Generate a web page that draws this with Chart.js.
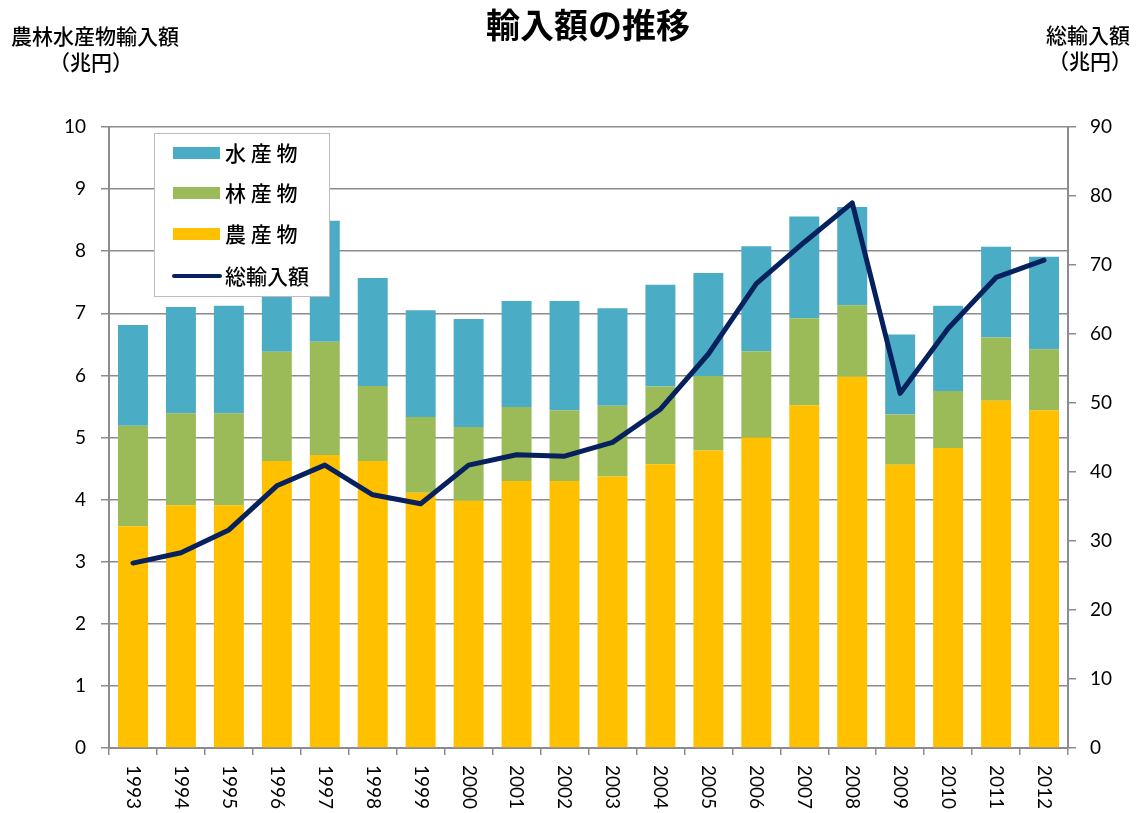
<!DOCTYPE html>
<html>
<head>
<meta charset="utf-8">
<script src="https://cdn.jsdelivr.net/npm/chart.js@4"></script>
<style>
  html, body { margin: 0; padding: 0; background: #fff; }
  #wrap { width: 1140px; height: 813px; }
</style>
</head>
<body>
<div id="wrap"><canvas id="chart" width="1140" height="813"></canvas></div>
<script>
// 年
const years = ['1993','1994','1995','1996','1997','1998','1999','2000','2001','2002',
               '2003','2004','2005','2006','2007','2008','2009','2010','2011','2012'];
// 農産物 (兆円)
const agri   = [3.57, 3.91, 3.91, 4.62, 4.72, 4.62, 4.11, 3.98, 4.30, 4.30,
                4.37, 4.57, 4.79, 5.00, 5.52, 5.98, 4.56, 4.83, 5.59, 5.44];
// 林産物 (兆円)
const forest = [1.62, 1.48, 1.48, 1.76, 1.82, 1.21, 1.22, 1.19, 1.19, 1.14,
                1.14, 1.25, 1.20, 1.39, 1.40, 1.15, 0.81, 0.92, 1.02, 0.98];
// 水産物 (兆円)
const fish   = [1.62, 1.71, 1.73, 1.95, 1.95, 1.74, 1.72, 1.74, 1.71, 1.76,
                1.57, 1.64, 1.66, 1.69, 1.64, 1.58, 1.29, 1.37, 1.46, 1.49];
// 総輸入額 (兆円)
const total  = [26.8, 28.3, 31.6, 38.0, 41.0, 36.7, 35.4, 41.0, 42.5, 42.3,
                44.3, 49.1, 57.1, 67.3, 73.3, 79.0, 51.4, 60.8, 68.2, 70.7];
const leftTicks  = [0, 1, 2, 3, 4, 5, 6, 7, 8, 9, 10];
const rightTicks = [0, 10, 20, 30, 40, 50, 60, 70, 80, 90];

const JP = '"Noto Sans CJK JP", "Noto Sans", sans-serif';
const NUM = 'Lato, "Noto Sans", sans-serif';
const gridGrey = '#8c8c8c';

// タイトル・軸名・凡例・年ラベルを描く
const decor = {
    id: 'decor',
    afterDraw(chart) {
        const ctx = chart.ctx;
        ctx.save();
        ctx.fillStyle = '#000';
        ctx.textBaseline = 'middle';
        ctx.textAlign = 'center';
        ctx.font = 'bold 34px ' + JP;
        ctx.fillText('輸入額の推移', 588, 25);

        ctx.font = '500 21px ' + JP;
        ctx.fillText('農林水産物輸入額', 95, 36);
        ctx.fillText('（兆円）', 91, 62);
        ctx.fillText('総輸入額', 1088, 35);
        ctx.fillText('（兆円）', 1090, 61);

        // 年ラベル（時計回りに90度）
        const xs = chart.scales.x;
        ctx.font = '19px ' + NUM;
        years.forEach((y, i) => {
            const px = xs.getPixelForTick(i);
            ctx.save();
            ctx.translate(px, 765);
            ctx.rotate(Math.PI / 2);
            ctx.textAlign = 'left';
            ctx.textBaseline = 'middle';
            ctx.fillText(y, 0, 0);
            ctx.restore();
        });

        // 凡例
        ctx.fillStyle = '#fff';
        ctx.fillRect(154, 133, 175, 163);
        ctx.strokeStyle = '#bdbdbd';
        ctx.lineWidth = 1;
        ctx.strokeRect(154.5, 133.5, 175, 163);
        const items = [
            { label: '水 産 物', ds: 2, y: 153 },
            { label: '林 産 物', ds: 1, y: 193 },
            { label: '農 産 物', ds: 0, y: 234 },
            { label: '総輸入額', ds: 3, y: 276 }
        ];
        ctx.font = '500 21px ' + JP;
        ctx.textAlign = 'left';
        items.forEach(it => {
            const ds = chart.data.datasets[it.ds];
            if (ds.type === 'line') {
                ctx.strokeStyle = ds.borderColor;
                ctx.lineWidth = 4;
                ctx.lineCap = 'round';
                ctx.beginPath();
                ctx.moveTo(174, it.y);
                ctx.lineTo(220, it.y);
                ctx.stroke();
            } else {
                ctx.fillStyle = ds.backgroundColor;
                ctx.fillRect(173, it.y - 6, 47, 12);
            }
            ctx.fillStyle = '#000';
            ctx.fillText(it.label, 225, it.y);
        });
        ctx.restore();
    }
};

const ctx = document.getElementById('chart');
new Chart(ctx, {
    data: {
        labels: years,
        datasets: [
            { type: 'bar', label: '農 産 物', data: agri, backgroundColor: '#FFC000', yAxisID: 'y', order: 2,
              barPercentage: 0.625, categoryPercentage: 1 },
            { type: 'bar', label: '林 産 物', data: forest, backgroundColor: '#9BBB59', yAxisID: 'y', order: 2,
              barPercentage: 0.625, categoryPercentage: 1 },
            { type: 'bar', label: '水 産 物', data: fish, backgroundColor: '#4BACC6', yAxisID: 'y', order: 2,
              barPercentage: 0.625, categoryPercentage: 1 },
            { type: 'line', label: '総輸入額', data: total, borderColor: '#06215E', borderWidth: 5,
              pointRadius: 0, tension: 0, yAxisID: 'y2', order: 1, borderCapStyle: 'round', borderJoinStyle: 'round' }
        ]
    },
    options: {
        responsive: false,
        animation: false,
        layout: { padding: { top: 127, left: 0, right: 0, bottom: 0 } },
        plugins: { legend: { display: false }, title: { display: false }, tooltip: { enabled: false } },
        scales: {
            x: {
                stacked: true,
                ticks: { display: false },
                grid: { drawOnChartArea: false, color: gridGrey, tickLength: 7, lineWidth: 1.5, offset: true },
                border: { color: gridGrey, width: 2 },
                afterFit(s) { s.height = 65; }
            },
            y: {
                stacked: true,
                position: 'left',
                min: 0, max: 10,
                afterBuildTicks(s) { s.ticks = leftTicks.map(v => ({ value: v })); },
                ticks: { color: '#000', font: { size: 19, family: NUM }, padding: 15 },
                grid: { color: gridGrey, lineWidth: 1.5, tickLength: 8 },
                border: { color: gridGrey, width: 2 },
                afterFit(s) { s.width = 109; }
            },
            y2: {
                position: 'right',
                min: 0, max: 90,
                afterBuildTicks(s) { s.ticks = rightTicks.map(v => ({ value: v })); },
                ticks: { color: '#000', font: { size: 19, family: NUM }, padding: 14 },
                grid: { drawOnChartArea: false, color: gridGrey, lineWidth: 1.5, tickLength: 8 },
                border: { color: gridGrey, width: 2 },
                afterFit(s) { s.width = 72; }
            }
        }
    },
    plugins: [decor]
});
</script>
</body>
</html>
